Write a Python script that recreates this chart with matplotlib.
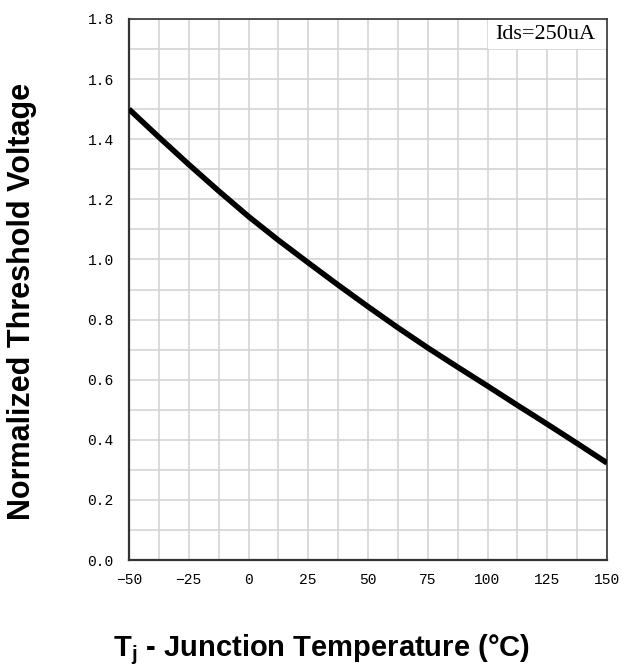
import numpy as np
import matplotlib.pyplot as plt
from matplotlib.patches import Rectangle

# curve (Tj in degC, normalized Vth)
temp = [-50, -37.5, -25, -12.5, 0, 12.5, 25, 37.5, 50, 62.5, 75, 87.5, 100, 112.5, 125, 137.5, 150]
vth = [1.50, 1.407, 1.316, 1.228, 1.143, 1.064, 0.989, 0.915, 0.843, 0.773, 0.706, 0.642, 0.579, 0.515, 0.452, 0.388, 0.323]

x_ticks = [-50, -25, 0, 25, 50, 75, 100, 125, 150]
y_ticks = [0.0, 0.2, 0.4, 0.6, 0.8, 1.0, 1.2, 1.4, 1.6, 1.8]

fig = plt.figure(figsize=(6.26, 6.67), dpi=100)
ax = fig.add_axes([129 / 626, 1 - 560 / 667, 478 / 626, 541 / 667])

ax.plot(temp, vth, color='black', lw=4, solid_capstyle='butt', zorder=3)

ax.set_xlim(-50, 150)
ax.set_ylim(0, 1.8)
ax.set_xticks(x_ticks)
ax.set_yticks(y_ticks)
ax.set_xticks(np.arange(-50, 151, 12.5), minor=True)
ax.set_yticks(np.arange(0, 1.81, 0.1), minor=True)
ax.set_yticklabels(['%.1f' % v for v in y_ticks])
ax.grid(which='both', color='#d4d4d4', lw=1.2, zorder=0)
ax.set_axisbelow(True)
ax.tick_params(which='both', length=0)
ax.tick_params(axis='x', pad=9)
ax.tick_params(axis='y', pad=11)
for lab in ax.get_xticklabels() + ax.get_yticklabels():
    lab.set_family('Liberation Mono')
    lab.set_fontsize(10.5)
    lab.set_color('black')

for s in ax.spines.values():
    s.set_color('#333333')
    s.set_linewidth(1.2)
ax.spines['left'].set_linewidth(1.6)
ax.spines['bottom'].set_linewidth(1.6)

# white patch behind the condition label
ax.add_patch(Rectangle((0.75, 17 / 18), 0.25, 1 / 18, transform=ax.transAxes,
                       facecolor='white', edgecolor='none', zorder=1))
ax.text(0.975, 0.972, 'Ids=250uA', transform=ax.transAxes, ha='right', va='center',
        family='Liberation Serif', fontsize=16, zorder=2)

fig.text(22 / 626, 1 - 301 / 667, 'Normalized Threshold Voltage', rotation=90,
         ha='center', va='center', family='Liberation Sans', weight='bold', fontsize=22)
fig.text(322 / 626, 1 - 650 / 667, r'T$_\mathregular{j}$ - Junction Temperature (°C)',
         ha='center', va='center', family='Liberation Sans', weight='bold', fontsize=21)

fig.savefig('out.png', dpi=100)
